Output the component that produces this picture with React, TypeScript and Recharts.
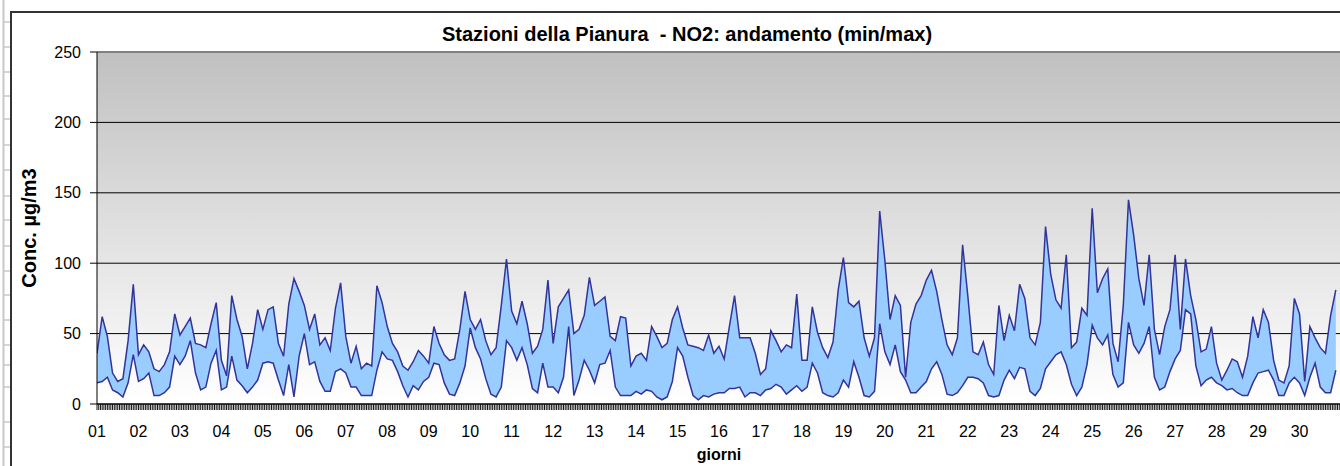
import React from 'react';
import { ComposedChart, Area, XAxis, YAxis, CartesianGrid, ReferenceLine } from 'recharts';

// 3-hourly maxima / minima (µg/m3)
const maxValues = [
  36, 62, 48, 22, 16, 18, 45, 85, 35, 42,
  37, 25, 23, 28, 37, 64, 49, 55, 61, 43,
  42, 40, 57, 72, 31, 20, 77, 60, 48, 25,
  43, 67, 53, 67, 69, 43, 34, 71, 89, 80,
  70, 53, 64, 42, 47, 38, 68, 86, 48, 29,
  41, 25, 29, 27, 84, 72, 55, 43, 37, 27,
  24, 30, 38, 34, 29, 55, 43, 35, 31, 32,
  53, 80, 60, 53, 60, 45, 35, 40, 70, 103,
  66, 57, 73, 57, 36, 41, 53, 88, 43, 69,
  75, 81, 50, 53, 63, 90, 70, 73, 76, 48,
  45, 62, 61, 27, 34, 36, 31, 55, 48, 40,
  43, 60, 69, 54, 42, 41, 40, 38, 49, 36,
  41, 32, 55, 77, 47, 47, 47, 36, 21, 25,
  52, 45, 37, 42, 40, 78, 31, 31, 69, 51,
  40, 33, 44, 81, 104, 72, 69, 73, 47, 34,
  47, 137, 102, 60, 77, 70, 19, 58, 71, 77,
  88, 95, 80, 60, 42, 35, 47, 113, 77, 37,
  35, 44, 28, 21, 70, 45, 63, 52, 85, 75,
  47, 42, 58, 126, 92, 74, 68, 106, 40, 44,
  68, 63, 139, 79, 89, 96, 43, 30, 70, 145,
  120, 89, 70, 106, 53, 35, 55, 67, 106, 53,
  103, 77, 60, 37, 39, 55, 29, 17, 24, 32,
  30, 19, 34, 62, 47, 67, 58, 31, 17, 15,
  27, 75, 64, 16, 55, 47, 40, 36, 63, 81,
];

const minValues = [
  15, 16, 19, 10, 8, 5, 15, 35, 16, 18,
  22, 6, 6, 8, 12, 34, 28, 34, 45, 22,
  10, 12, 29, 38, 10, 12, 34, 17, 13, 8,
  12, 17, 29, 30, 29, 17, 6, 28, 5, 34,
  50, 28, 30, 16, 9, 9, 23, 25, 22, 12,
  12, 6, 6, 6, 24, 37, 32, 31, 23, 13,
  5, 13, 10, 16, 19, 29, 28, 15, 7, 6,
  15, 27, 54, 40, 32, 18, 7, 5, 12, 45,
  40, 31, 40, 28, 11, 8, 29, 12, 12, 8,
  19, 55, 6, 17, 31, 24, 15, 28, 29, 38,
  12, 6, 6, 6, 9, 7, 10, 9, 5, 3,
  5, 16, 40, 34, 19, 6, 3, 6, 5, 7,
  8, 8, 11, 11, 12, 5, 8, 8, 6, 10,
  11, 14, 12, 7, 10, 13, 9, 12, 29, 22,
  8, 6, 5, 8, 17, 12, 30, 19, 6, 5,
  9, 57, 37, 28, 42, 23, 17, 8, 8, 12,
  16, 25, 30, 21, 7, 6, 8, 13, 19, 19,
  18, 15, 6, 5, 6, 17, 24, 18, 26, 25,
  9, 6, 11, 25, 30, 35, 37, 28, 14, 6,
  12, 28, 56, 47, 42, 49, 21, 12, 15, 58,
  42, 36, 43, 55, 19, 10, 12, 23, 32, 38,
  67, 64, 27, 13, 17, 19, 15, 13, 10, 11,
  8, 6, 6, 15, 22, 23, 24, 17, 6, 6,
  15, 19, 15, 6, 19, 29, 12, 8, 8, 24,
];

const dayLabels = [
  '01', '02', '03', '04', '05', '06', '07', '08', '09', '10',
  '11', '12', '13', '14', '15', '16', '17', '18', '19', '20',
  '21', '22', '23', '24', '25', '26', '27', '28', '29', '30',
];
const yTicks = [0, 50, 100, 150, 200, 250];
const STEP_HOURS = 3;
const HOURS_PER_DAY = 24;
const TOTAL_HOURS = 720;

const hours = maxValues.map((_, i) => i * STEP_HOURS);
const hourTicks = Array.from({ length: TOTAL_HOURS + 1 }, (_, i) => i);
const sheetRows = [22, 47, 72, 96, 119, 145, 170, 196, 220, 246, 271, 295, 320, 345, 365, 387, 422, 447];

const data = hours.map((h, i) => ({ h, range: [minValues[i], maxValues[i]] }));

const FONT = "'Liberation Sans', Arial, Helvetica, sans-serif";

function DayTick(props: any) {
  const { x, y, payload } = props;
  const v = payload?.value;
  if (typeof v !== 'number' || v % HOURS_PER_DAY !== 0) return <g />;
  const label = dayLabels[v / HOURS_PER_DAY];
  if (!label) return <g />;
  return (
    <text x={x} y={y} dy="0.71em" textAnchor="middle" fontSize={16} fontFamily={FONT} fill="#000">
      {label}
    </text>
  );
}

export default function App() {
  return (
    <div
      style={{
        position: 'absolute',
        left: 0,
        top: 0,
        width: 1340,
        height: 466,
        overflow: 'hidden',
        background: '#fff',
        fontFamily: FONT,
      }}
    >
      <svg style={{ position: 'absolute', left: 0, top: 0 }} width={1340} height={466}>
        <line x1={3.5} y1={0} x2={3.5} y2={466} stroke="#c8c8c8" strokeWidth={2} />
        {sheetRows.map((y) => (
          <line key={y} x1={4} y1={y} x2={10} y2={y} stroke="#c8c8c8" strokeWidth={1.5} />
        ))}
        <path d="M 11 470 L 11 12 L 1345 12" fill="none" stroke="#333" strokeWidth={2} />
      </svg>
      <div style={{ position: 'absolute', left: 0, top: 0 }}>
        <ComposedChart
          width={1345}
          height={466}
          data={data}
          margin={{ top: 52, right: 4, bottom: 0, left: 0 }}
        >
          <defs>
            <linearGradient id="plotBg" x1="0" y1="0" x2="0" y2="1">
              <stop offset="0%" stopColor="#C0C0C0" />
              <stop offset="100%" stopColor="#FFFFFF" />
            </linearGradient>
          </defs>
          <CartesianGrid
            xAxisId="h"
            vertical={false}
            stroke="#000"
            strokeWidth={1}
            fill="url(#plotBg)"
            fillOpacity={1}
          />
          <XAxis
            xAxisId="h"
            dataKey="h"
            type="number"
            domain={[0, TOTAL_HOURS]}
            ticks={hourTicks}
            interval={0}
            tick={<DayTick />}
            tickSize={6}
            tickMargin={16}
            height={62}
            axisLine={{ stroke: '#000' }}
            tickLine={{ stroke: '#111', strokeWidth: 1 }}
            allowDataOverflow
          />
          <YAxis
            domain={[0, 250]}
            ticks={yTicks}
            interval={0}
            width={97}
            tickSize={7}
            tickMargin={9}
            axisLine={{ stroke: '#000' }}
            tickLine={{ stroke: '#000' }}
            tick={{ fill: '#000', fontSize: 16, fontFamily: FONT }}
            allowDataOverflow
          />
          <ReferenceLine xAxisId="h" y={250} stroke="#808080" strokeWidth={2} />
          <Area
            xAxisId="h"
            dataKey="range"
            type="linear"
            stroke="#333399"
            strokeWidth={1.5}
            fill="#99CCFF"
            fillOpacity={1}
            dot={false}
            activeDot={false}
            isAnimationActive={false}
          />
        </ComposedChart>
      </div>
      <svg
        style={{ position: 'absolute', left: 0, top: 0, pointerEvents: 'none' }}
        width={1340}
        height={466}
        fontFamily={FONT}
      >
        <text
          x={687}
          y={41}
          textAnchor="middle"
          fontWeight="bold"
          fontSize={20}
          fill="#000"
          style={{ whiteSpace: 'pre' }}
        >
          {'Stazioni della Pianura  - NO2: andamento (min/max)'}
        </text>
        <text
          transform="translate(29,228) rotate(-90)"
          textAnchor="middle"
          dominantBaseline="central"
          fontWeight="bold"
          fontSize={20}
          fill="#000"
        >
          Conc. µg/m3
        </text>
        <text x={719} y={460} textAnchor="middle" fontWeight="bold" fontSize={16} fill="#000">
          giorni
        </text>
      </svg>
    </div>
  );
}
